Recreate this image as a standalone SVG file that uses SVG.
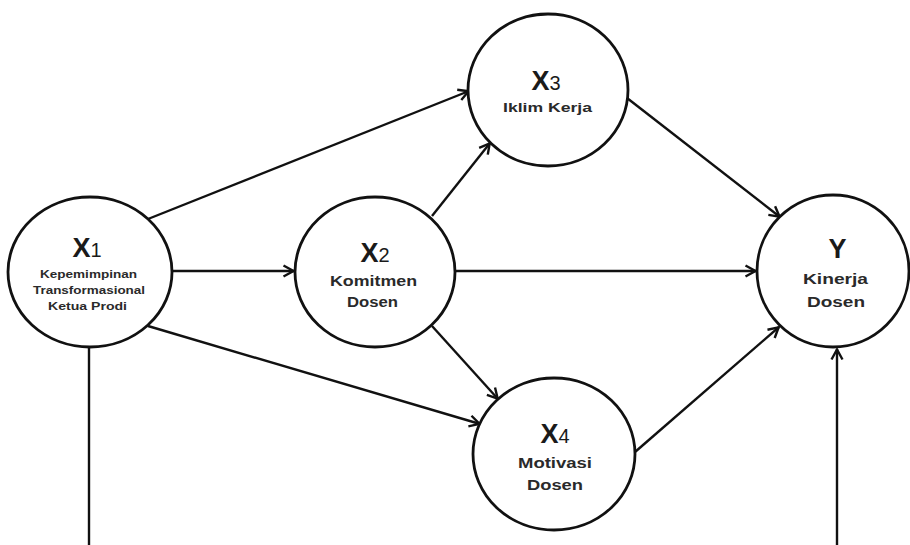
<svg xmlns="http://www.w3.org/2000/svg" width="910" height="545" viewBox="0 0 910 545">
  <style>
    .node { fill: #ffffff; stroke: #111111; stroke-width: 2.8; }
    .edge { stroke: #111111; stroke-width: 2.4; fill: none; }
    .title { font-family: "Liberation Sans", Arial, sans-serif; font-weight: bold; font-size: 27px; fill: #1a1a1a; text-anchor: middle; }
    .sub { font-size: 20px; font-weight: normal; }
    .lbl { font-family: "Liberation Sans", Arial, sans-serif; font-weight: bold; fill: #2a2a2a; text-anchor: middle; }
    .s10 { font-size: 10.5px; }
    .s13 { font-size: 13px; }
    .s14 { font-size: 14px; }
  </style>
  <defs>
    <marker id="arrow" markerUnits="userSpaceOnUse" viewBox="0 0 14 14" markerWidth="14" markerHeight="14" refX="12.5" refY="7" orient="auto">
      <path d="M2,1.5 L12,7 L2,12.5" fill="none" stroke="#111111" stroke-width="2.4"/>
    </marker>
  </defs>
  <rect width="910" height="545" fill="#ffffff"/>

  <g id="connectors">
    <line class="edge" x1="148" y1="219" x2="469" y2="91" marker-end="url(#arrow)"/>
    <line class="edge" x1="172" y1="271" x2="294" y2="271" marker-end="url(#arrow)"/>
    <line class="edge" x1="148" y1="326" x2="480" y2="424" marker-end="url(#arrow)"/>
    <line class="edge" x1="432" y1="216" x2="490" y2="143" marker-end="url(#arrow)"/>
    <line class="edge" x1="455" y1="271" x2="756" y2="271" marker-end="url(#arrow)"/>
    <line class="edge" x1="432" y1="326" x2="498" y2="399" marker-end="url(#arrow)"/>
    <line class="edge" x1="627" y1="98" x2="780" y2="217" marker-end="url(#arrow)"/>
    <line class="edge" x1="635" y1="452" x2="779" y2="327" marker-end="url(#arrow)"/>
    <line class="edge" x1="89" y1="348" x2="89" y2="545"/>
    <line class="edge" x1="837" y1="545" x2="837" y2="349" marker-end="url(#arrow)"/>
  </g>

  <g id="X1">
    <ellipse class="node" cx="90" cy="272" rx="82" ry="75"/>
    <text class="title" x="87" y="257">X<tspan class="sub">1</tspan></text>
    <text class="lbl s10" x="88.5" y="278" textLength="97" lengthAdjust="spacingAndGlyphs">Kepemimpinan</text>
    <text class="lbl s10" x="89" y="294" textLength="112" lengthAdjust="spacingAndGlyphs">Transformasional</text>
    <text class="lbl s10" x="87.5" y="310" textLength="79" lengthAdjust="spacingAndGlyphs">Ketua Prodi</text>
  </g>

  <g id="X2">
    <ellipse class="node" cx="375" cy="272" rx="80" ry="75"/>
    <text class="title" x="375" y="262">X<tspan class="sub">2</tspan></text>
    <text class="lbl s14" x="373.5" y="286" textLength="87" lengthAdjust="spacingAndGlyphs">Komitmen</text>
    <text class="lbl s14" x="372.5" y="307" textLength="51" lengthAdjust="spacingAndGlyphs">Dosen</text>
  </g>

  <g id="X3">
    <ellipse class="node" cx="548" cy="90" rx="80" ry="76"/>
    <text class="title" x="546" y="90">X<tspan class="sub">3</tspan></text>
    <text class="lbl s13" x="547.5" y="112" textLength="89" lengthAdjust="spacingAndGlyphs">Iklim Kerja</text>
  </g>

  <g id="X4">
    <ellipse class="node" cx="554" cy="454" rx="81" ry="76"/>
    <text class="title" x="555" y="443">X<tspan class="sub">4</tspan></text>
    <text class="lbl s14" x="555" y="468" textLength="74" lengthAdjust="spacingAndGlyphs">Motivasi</text>
    <text class="lbl s14" x="555" y="490" textLength="56" lengthAdjust="spacingAndGlyphs">Dosen</text>
  </g>

  <g id="Y">
    <ellipse class="node" cx="833" cy="271" rx="76" ry="76"/>
    <text class="title" x="837.5" y="258">Y</text>
    <text class="lbl s14" x="835.5" y="284" textLength="65" lengthAdjust="spacingAndGlyphs">Kinerja</text>
    <text class="lbl s14" x="836" y="307" textLength="58" lengthAdjust="spacingAndGlyphs">Dosen</text>
  </g>
</svg>
